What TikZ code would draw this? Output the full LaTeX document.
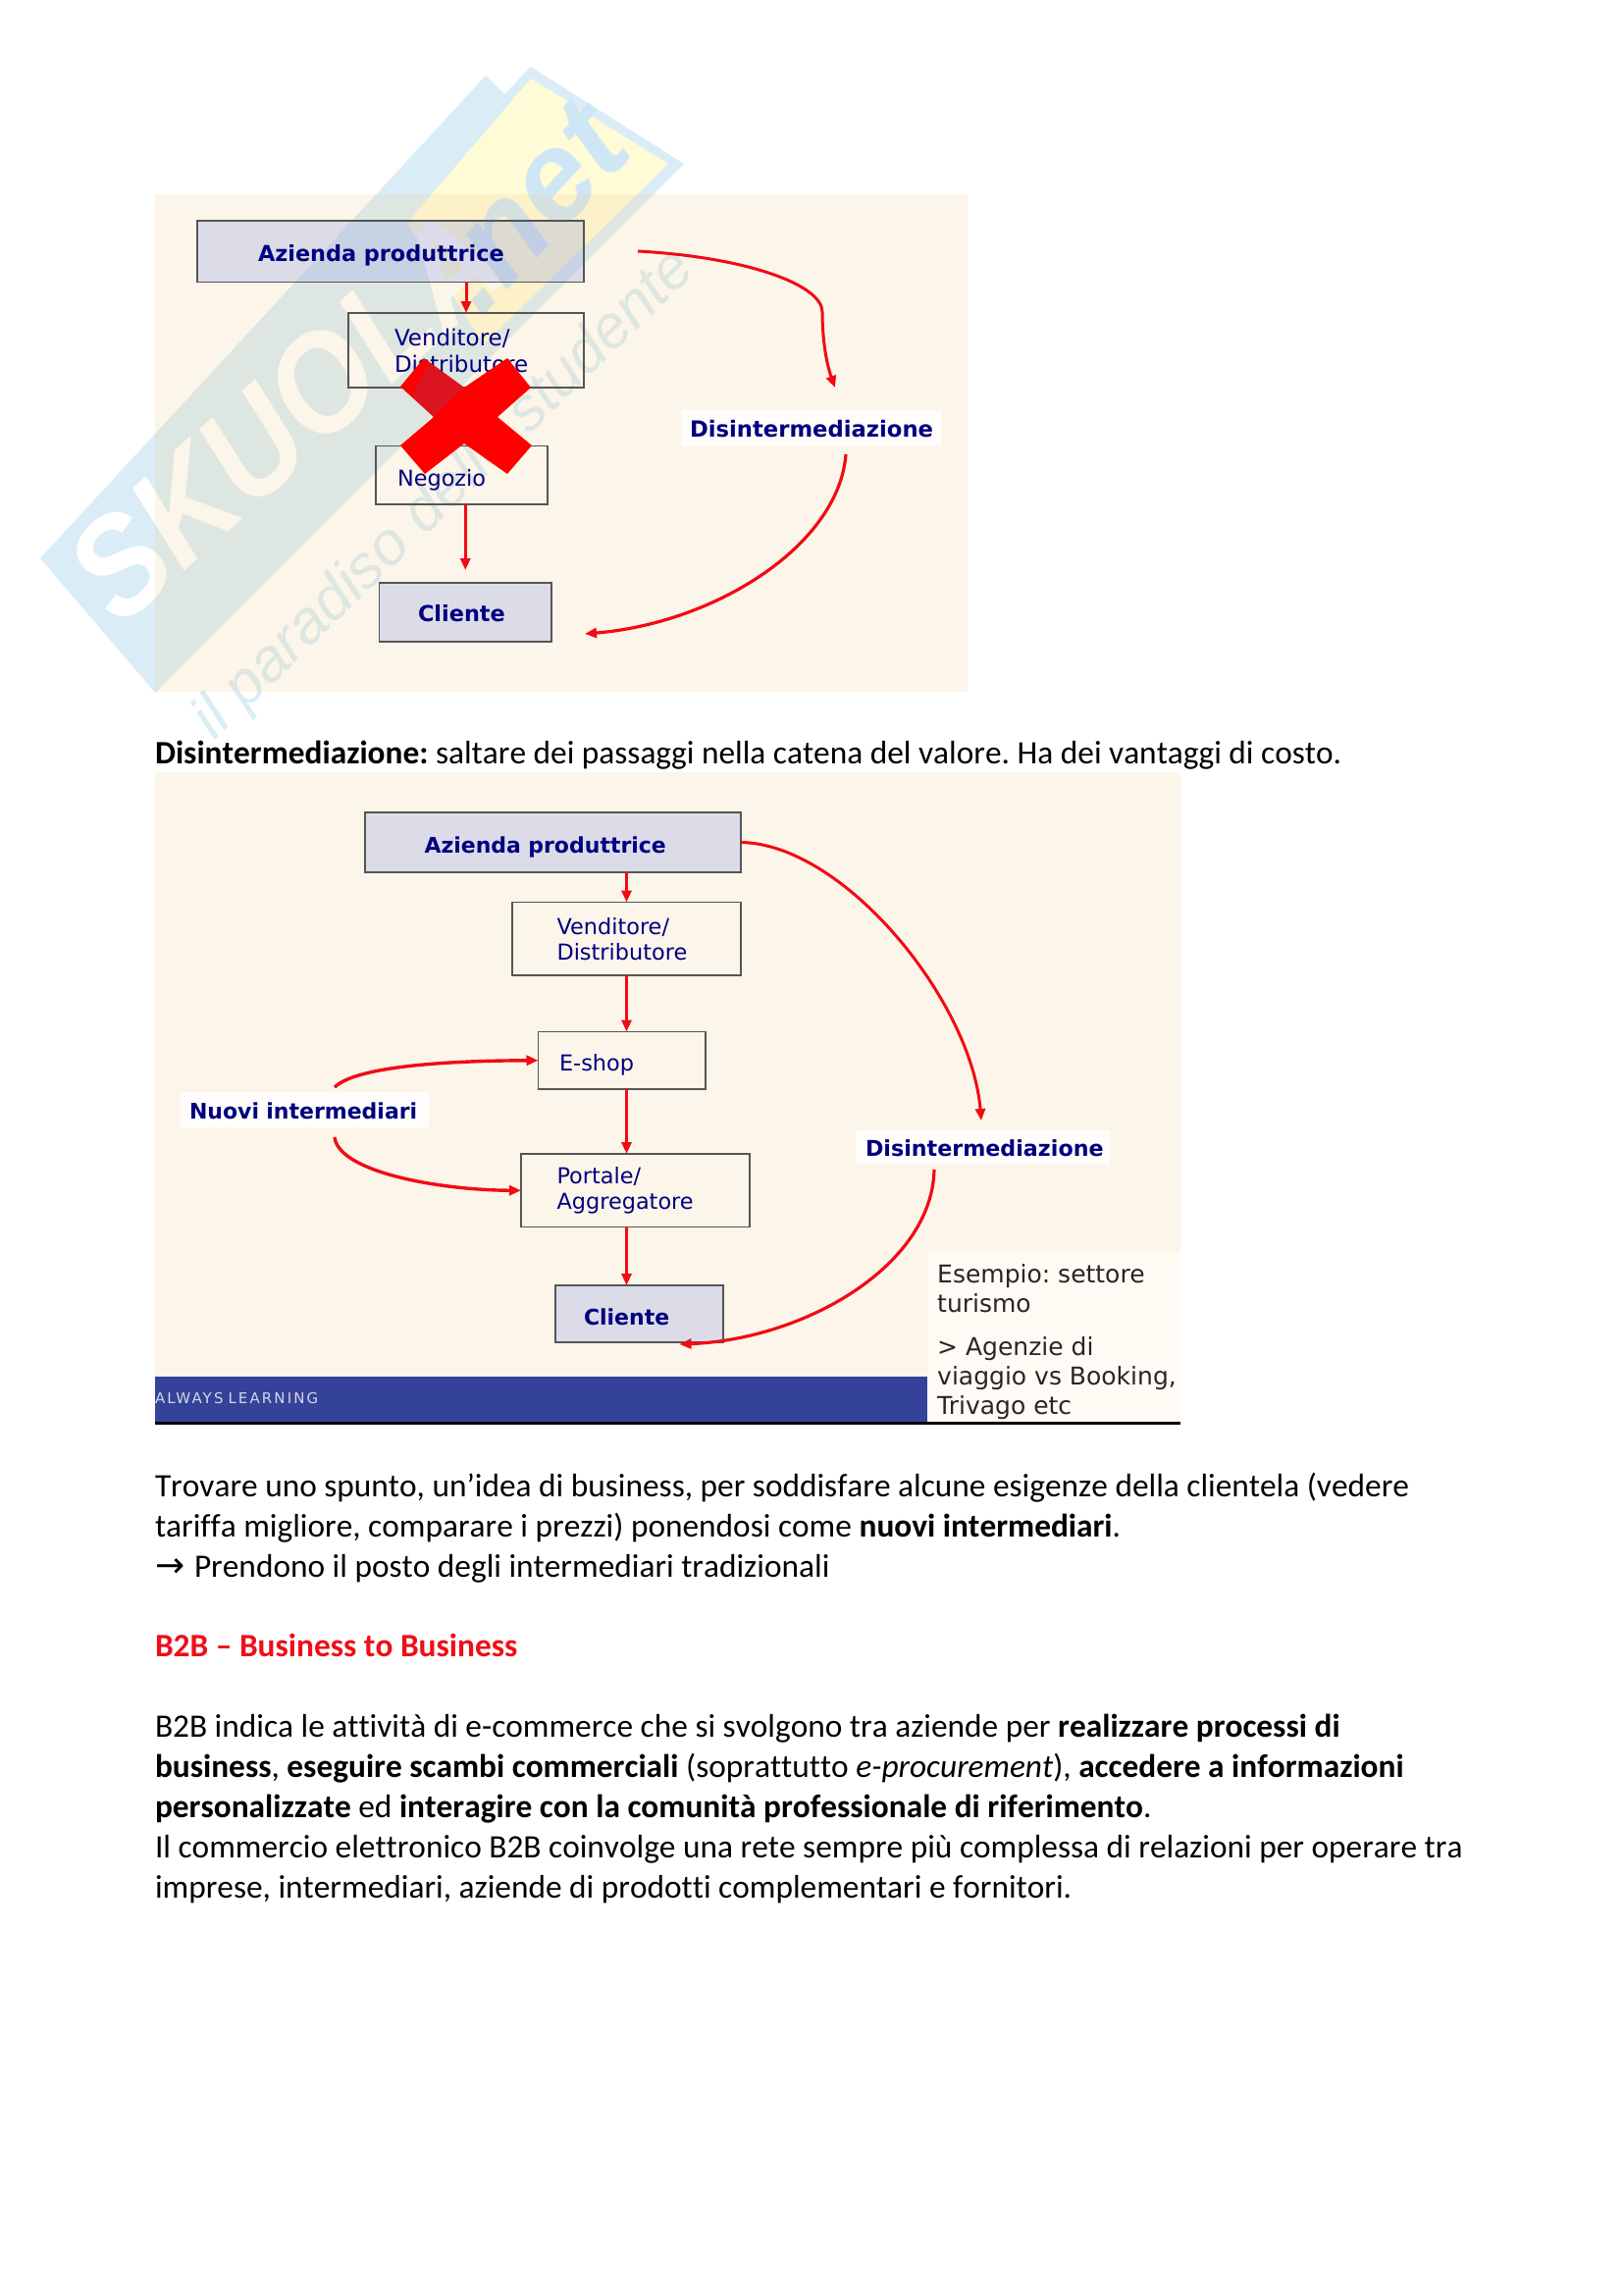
\documentclass[tikz,border=0pt]{standalone}
\usepackage{fontspec}
\setmainfont[Ligatures=CommonOff,Kerning=Off]{Carlito}
\newfontfamily\slidefam{DejaVu Sans}
\newfontfamily\barfam[LetterSpace=14]{DejaVu Sans}
\newfontfamily\markfam{Liberation Sans}
\usepackage{tikz}
\usetikzlibrary{arrows.meta,positioning}
\definecolor{slidetint}{HTML}{F0CD91}
\definecolor{notecream}{HTML}{FFFBF4}
\definecolor{boxtint}{HTML}{95A5E9}
\definecolor{boxline}{HTML}{555555}
\definecolor{labelnavy}{HTML}{000080}
\definecolor{barblue}{HTML}{35429A}
\definecolor{barletter}{HTML}{D5D6E8}
\definecolor{arrowred}{HTML}{F20A14}
\definecolor{crossdark}{HTML}{DC1420}
\definecolor{markblue}{HTML}{DAEDF7}
\definecolor{markyellow}{HTML}{FFFBD6}
\definecolor{markletter}{HTML}{CFE6F5}
\definecolor{headred}{HTML}{EE0F18}

\tikzset{
  slidepart/.style={anchor=north west,inner ysep=0pt,outer sep=0pt,align=left},
  sized/.style 2 args={minimum width=#1pt,inner xsep=#2pt,text width=#1pt-2*#2pt},
  tx/.style={text height=#1pt,text depth=0pt},
  slideback/.style={slidepart,fill=slidetint,fill opacity=.2},
  greybox/.style={slidepart,draw=boxline,line width=1.3pt,fill=boxtint,fill opacity=.3,draw opacity=1,text opacity=1,text=labelnavy},
  plainbox/.style={slidepart,draw=boxline,line width=1.3pt,text=labelnavy},
  whitelabel/.style={slidepart,fill=white,fill opacity=.85,text opacity=1,text=labelnavy},
  redline/.style={draw=arrowred,line width=#1,-{Triangle[length=12pt,width=10pt]}},
  redline/.default=3pt,
  bodyline/.style={anchor=base west,inner sep=0pt,outer sep=0pt,font=\fontsize{33.35}{41}\selectfont},
  mainlabel/.style={font=\slidefam\bfseries\fontsize{22.4}{27}\selectfont},
  sublabel/.style={font=\slidefam\fontsize{23}{27}\selectfont},
  mainlabelb/.style={font=\slidefam\bfseries\fontsize{22}{26}\selectfont},
  sublabelb/.style={font=\slidefam\fontsize{22.4}{26}\selectfont},
}

\begin{document}
\frenchspacing
\begin{tikzpicture}[x=1pt,y=-1pt]
  \useasboundingbox (0,0) rectangle (1654,2339);

  % watermark, seen through the slide
  \fill[markblue] (41,569) -- (495,77) -- (514,96) -- (541,68) -- (697,167) -- (158,706) -- cycle;
  \fill[markyellow] (541,80) -- (681,167) -- (493,351) -- (415,227) -- cycle;
  \node[white,rotate=42,font=\markfam\bfseries\itshape\fontsize{142}{142}\selectfont] (markname) at (291,424) {\scalebox{.9}[1]{SKUOLA}};
  \node[markletter,rotate=47,font=\markfam\bfseries\itshape\fontsize{130}{130}\selectfont] (markdomain) at (539,211) {.net};
  \node[markblue,rotate=44.2,font=\markfam\itshape\fontsize{62}{62}\selectfont] (markmotto) at (453,505) {il paradiso dello studente};

  % first slide
  \node[slideback,minimum width=828pt,minimum height=507pt] (slidea) at (158,198) {};
  \node[greybox,sized={394}{62},tx=19.5,minimum height=62.5pt,mainlabel] (aziendaa) at (201,225) {Azienda produttrice};
  \node[plainbox,sized={240}{47},minimum height=76pt,sublabel] (venditorea) at (355,319) {Venditore/\\Distributore};
  \node[plainbox,sized={175}{22},tx=22,minimum height=59.5pt,sublabelb] (negozioa) at (383,454.5) {Negozio};
  \node[greybox,sized={175.5}{39.5},tx=18,minimum height=60pt,mainlabel] (clientea) at (386.5,594) {Cliente};
  \node[whitelabel,sized={265}{9},tx=18,minimum height=36pt,font=\slidefam\bfseries\fontsize{22.7}{27}\selectfont] (disinta) at (694,418) {Disintermediazione};
  \coordinate (startuppera) at (650,256);
  \coordinate (enduppera) at (851,395);
  \coordinate (startlowera) at (862,463);
  \coordinate (endlowera) at (596,646);
  \draw[redline] (venditorea.north |- aziendaa.south) -- (venditorea.north);
  \draw[redline,shorten >=13pt] (negozioa.south -| clientea.north) -- (clientea.north);
  \draw[redline] (startuppera) .. controls (760,262) and (838,290) .. (838,318) .. controls (838,345) and (842,370) .. (enduppera);
  \draw[redline=3.2pt] (startlowera) .. controls (855,555) and (730,635) .. (endlowera);
  % cross on top of the boxes
  \fill[red] (432,365) -- (473,395) -- (517,365) -- (541,395) -- (507,425) -- (542,454) -- (517,483) -- (473,452)
    -- (433,483) -- (408,454) -- (442,425) -- (408,394) -- cycle;
  \fill[crossdark] (420,403) -- (437,369) -- (473,395) -- (442,425) -- cycle;

  % second slide
  \node[slideback,minimum width=1045pt,minimum height=663pt] (slideb) at (158,787) {};
  \node[slidepart,fill=barblue,sized={787}{0},tx=8,minimum height=46pt,text=barletter,font=\barfam\fontsize{15}{18}\selectfont] (barb) at (158,1403) {ALWAYS LEARNING};
  \node[slidepart,fill=notecream,minimum width=258pt,minimum height=172pt,inner xsep=0pt,text=black!85,font=\slidefam\fontsize{25}{30}\selectfont] (noteb) at (945,1277)
    {\rule{0pt}{29pt}\hspace*{6pt}Esempio: settore\\\hspace*{6pt}turismo\\[14pt]\hspace*{6pt}> Agenzie di\\\hspace*{6pt}viaggio vs Booking,\\\hspace*{6pt}Trivago etc};
  \node[greybox,sized={383}{60.5},tx=21,minimum height=61pt,mainlabelb] (aziendab) at (372,828) {Azienda produttrice};
  \node[plainbox,sized={233}{45.5},minimum height=74.5pt,sublabelb] (venditoreb) at (522,919.5) {Venditore/\\Distributore};
  \node[plainbox,sized={170.5}{21.5},tx=21.7,minimum height=58.5pt,sublabelb] (eshopb) at (548.5,1051.5) {E-shop};
  \node[plainbox,sized={233}{36.5},minimum height=74.5pt,sublabelb] (portaleb) at (531,1176) {Portale/\\Aggregatore};
  \node[greybox,sized={171}{29},tx=22,minimum height=58pt,mainlabelb] (clienteb) at (566,1310) {Cliente};
  \node[whitelabel,sized={253}{9},tx=18,minimum height=36pt,mainlabelb] (nuovib) at (184,1113) {Nuovi intermediari};
  \node[whitelabel,sized={259}{10},tx=17,minimum height=35pt,font=\slidefam\bfseries\fontsize{22.2}{27}\selectfont] (disintb) at (872,1152) {Disintermediazione};
  \coordinate (starteshopb) at (341,1108);
  \coordinate (startportaleb) at (341,1159);
  \coordinate (startlowerb) at (952,1192);
  \coordinate (enduppperb) at (1000,1142);
  \coordinate (endlowerb) at (692.5,1370);
  \draw[redline] (aziendab.south -| venditoreb.north) -- (venditoreb.north);
  \draw[redline] (venditoreb.south) -- (venditoreb.south |- eshopb.north);
  \draw[redline] (venditoreb.south |- eshopb.south) -- (venditoreb.south |- portaleb.north);
  \draw[redline] (venditoreb.south |- portaleb.south) -- (venditoreb.south |- clienteb.north);
  \draw[redline] (aziendab.east) .. controls (860,860) and (990,1020) .. (enduppperb);
  \draw[redline=3.2pt] (startlowerb) .. controls (950,1290) and (820,1365) .. (endlowerb);
  \draw[redline=3.4pt] (starteshopb) .. controls (365,1085) and (470,1081) .. (eshopb.west);
  \draw[redline=3.4pt] (startportaleb) .. controls (345,1195) and (450,1213) .. (portaleb.west);
  \draw[line width=3pt,black] (slideb.south west) -- (slideb.south east);

  % text of the page
  \node[bodyline] (defline) at (158,778) {\textbf{Disintermediazione:} saltare dei passaggi nella catena del valore. Ha dei vantaggi di costo.};
  \node[bodyline] (ideaa) at (158,1525) {Trovare uno spunto, un’idea di business, per soddisfare alcune esigenze della clientela (vedere};
  \node[bodyline] (ideab) at (158,1566) {tariffa migliore, comparare i prezzi) ponendosi come \textbf{nuovi intermediari}.};
  \node[bodyline] (ideac) at (158,1607) {\makebox[40pt][l]{\slidefam\fontsize{36}{41}\selectfont →}Prendono il posto degli intermediari tradizionali};
  \node[bodyline,text=headred] (titleb) at (158,1688) {\textbf{B2B – Business to Business}};
  \node[bodyline] (bbba) at (158,1770) {B2B indica le attività di e-commerce che si svolgono tra aziende per \textbf{realizzare processi di}};
  \node[bodyline] (bbbb) at (158,1811) {\textbf{business}, \textbf{eseguire scambi commerciali} (soprattutto \textit{e-procurement}), \textbf{accedere a informazioni}};
  \node[bodyline] (bbbc) at (158,1852) {\textbf{personalizzate} ed \textbf{interagire con la comunità professionale di riferimento}.};
  \node[bodyline] (bbbd) at (158,1893) {Il commercio elettronico B2B coinvolge una rete sempre più complessa di relazioni per operare tra};
  \node[bodyline] (bbbe) at (158,1934) {imprese, intermediari, aziende di prodotti complementari e fornitori.};
\end{tikzpicture}
\end{document}
